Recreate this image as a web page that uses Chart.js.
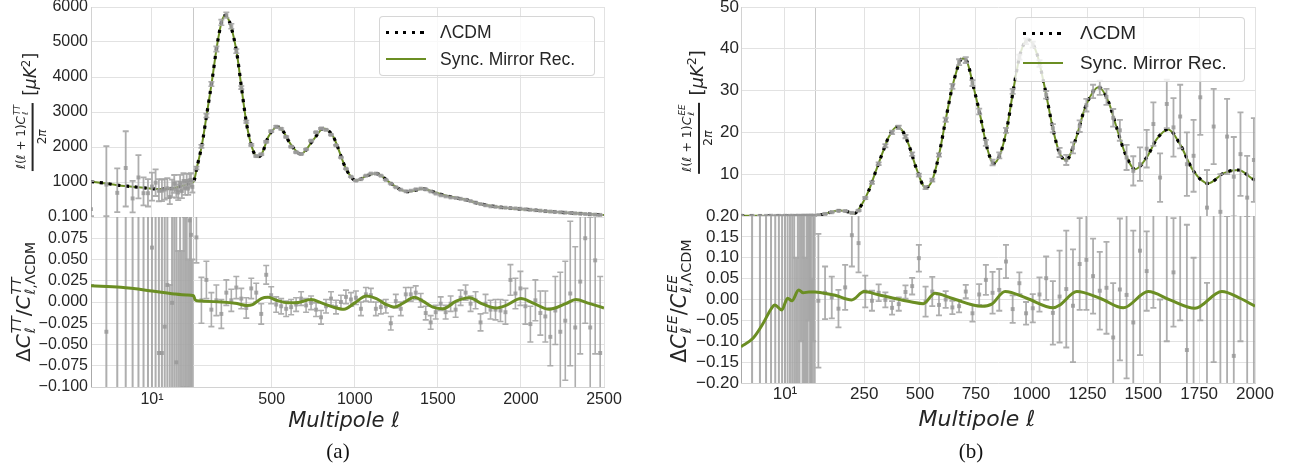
<!DOCTYPE html>
<html><head><meta charset="utf-8">
<script src="https://cdn.jsdelivr.net/npm/chart.js@4.4.0/dist/chart.umd.min.js"></script>
<style>
body{margin:0;background:#fff;width:1291px;height:476px;overflow:hidden;position:relative;color:#262626;font-family:'Liberation Sans',Arial,sans-serif}
canvas{position:absolute;left:0;top:0}
.abs{position:absolute;white-space:nowrap}
.m{font-family:'DejaVu Sans',sans-serif;color:#262626}
.m i{font-style:italic}
.rot{position:absolute;transform:translate(-50%,-50%) rotate(-90deg);display:flex;align-items:center;white-space:nowrap;line-height:1}
.frac{display:inline-flex;flex-direction:column;align-items:center}
.frac .num{border-bottom:2px solid #262626;padding:0 2px 2px;display:flex;align-items:center}
.frac .den{padding-top:2px}
.ss{display:inline-flex;flex-direction:column;font-size:0.7em;line-height:1;margin-left:1px}
.leg{position:absolute;background:rgba(255,255,255,0.8);border:1px solid rgba(204,204,204,0.8);border-radius:4px;box-sizing:border-box}
.dots{position:absolute;height:3px;background:repeating-linear-gradient(to right,#000 0 3.2px,transparent 3.2px 8.6px)}
.gl{position:absolute;height:2px;background:#6b8e23}
.lt{position:absolute;transform:translateY(-50%);font-family:'Liberation Sans',Arial,sans-serif;color:#262626;white-space:nowrap}
.cap{position:absolute;transform:translate(-50%,-50%);font-family:'Liberation Serif','Times New Roman',serif;font-size:21px;color:#111}
.xl{position:absolute;transform:translate(-50%,-50%);font-family:'DejaVu Sans',sans-serif;font-style:italic;color:#262626;white-space:nowrap}
</style>
</head><body>
<canvas id="cTTtop" width="1291" height="476"></canvas>
<canvas id="cTTbot" width="1291" height="476"></canvas>
<canvas id="cEEtop" width="1291" height="476"></canvas>
<canvas id="cEEbot" width="1291" height="476"></canvas>

<!-- y-axis titles -->
<div class="rot m" style="left:30px;top:112px">
  <span class="frac" style="font-size:12px"><span class="num"><i>ℓ</i>(<i>ℓ</i>&nbsp;+&nbsp;1)<i>C</i><span class="ss"><i>TT</i><i>ℓ</i></span></span><span class="den">2<i>π</i></span></span>
  <span style="font-size:17px;margin-left:7px">[<i>μK</i><sup style="font-size:0.7em">2</sup>]</span>
</div>
<div class="rot m" style="left:23px;top:302px;font-size:20px">Δ<i>C</i><span class="ss"><i>TT</i><i>ℓ</i></span>/<i>C</i><span class="ss"><i>TT</i><span><i>ℓ</i>,ΛCDM</span></span></div>
<div class="rot m" style="left:696px;top:112px">
  <span class="frac" style="font-size:12.5px"><span class="num"><i>ℓ</i>(<i>ℓ</i>&nbsp;+&nbsp;1)<i>C</i><span class="ss"><i>EE</i><i>ℓ</i></span></span><span class="den">2<i>π</i></span></span>
  <span style="font-size:18px;margin-left:7px">[<i>μK</i><sup style="font-size:0.7em">2</sup>]</span>
</div>
<div class="rot m" style="left:679px;top:301px;font-size:20.5px">Δ<i>C</i><span class="ss"><i>EE</i><i>ℓ</i></span>/<i>C</i><span class="ss"><i>EE</i><span><i>ℓ</i>,ΛCDM</span></span></div>

<!-- x titles and captions -->
<div class="xl" style="left:344px;top:420px;font-size:21px">Multipole ℓ</div>
<div class="xl" style="left:977px;top:418px;font-size:22px">Multipole ℓ</div>
<div class="cap" style="left:338px;top:451px">(a)</div>
<div class="cap" style="left:971px;top:451px">(b)</div>

<!-- legends -->
<div class="leg" style="left:379px;top:16px;width:216px;height:60px"></div>
<div class="dots" style="left:386px;top:31px;width:42px"></div>
<div class="lt" style="left:440px;top:32px;font-size:17.5px">ΛCDM</div>
<div class="gl" style="left:386px;top:58px;width:40px"></div>
<div class="lt" style="left:440px;top:59px;font-size:17.5px">Sync. Mirror Rec.</div>

<div class="leg" style="left:1015px;top:17px;width:230px;height:65px"></div>
<div class="dots" style="left:1023px;top:32px;width:42px"></div>
<div class="lt" style="left:1080px;top:33px;font-size:19px">ΛCDM</div>
<div class="gl" style="left:1023px;top:62px;width:40px"></div>
<div class="lt" style="left:1080px;top:63px;font-size:19px">Sync. Mirror Rec.</div>

<script>
// ================= DATA: panel (a) TT =================
const ttLowEll = [2,3,4,5,6,7,8,9,10,11,12,13,14,15,16,17,18,19,20,21,22,23,24,25,26,27,28,29];
const ttLowD = [225,925,690,1400,530,1130,680,680,870,980, 750,752,785,820,570,810,950,780,700,975, 740,1030,820,1030,810,1050,1060,860];
const ttLowErrLo = [200,900,550,1100,400,600,350,380,400,380, 300,300,290,280,200,250,260,230,220,230, 200,210,190,200,180,180,180,160];
const ttLowErrHi = [800,1100,700,1050,500,640,450,400,400,380, 330,320,300,290,250,260,250,240,230,230, 210,220,200,200,190,190,190,170];
const ttLowRes = [-0.78,-0.035,-0.24,0.6,-0.36,0.38,-0.18,-0.15,0.064,0.2, -0.06,-0.06,-0.029,0.02,-0.3,-0.001,0.15,-0.071,-0.2,0.12, -0.18,0.13,-0.12,0.11,-0.15,0.096,0.079,-0.13];
const ttLowResErr = [0.8,1.1,0.7,1.1,0.55,0.7,0.5,0.48,0.46,0.42, 0.4,0.38,0.36,0.34,0.32,0.3,0.28,0.27,0.26,0.25, 0.24,0.23,0.22,0.21,0.2,0.2,0.19,0.18];

const ttBinEll = [47,77,107,137,167,197,227,257,287,317, 347,377,407,437,467,497,527,557,587,617, 647,677,707,737,767,797,827,857,887,917, 947,977,1007,1037,1067,1097,1127,1157,1187,1217, 1247,1277,1307,1337,1367,1397,1427,1457,1487,1517, 1547,1577,1607,1637,1667,1697,1727,1757,1787,1817, 1847,1877,1907,1937,1967,1997,2027,2057,2087,2117, 2147,2177,2207,2237,2267,2297,2327,2357,2387,2417, 2447,2477];
const ttBinD = [1400,2020,2900,3800,4800,5560,5770,5450,4740,3700, 2720,2060,1740,1790,2150,2450,2580,2520,2290,2010, 1850,1800,1930,2180,2420,2530,2490,2350,2050,1700, 1380,1150,1040,1080,1180,1240,1240,1180,1060,950, 850,780,735,750,790,810,790,730,670,620, 590,560,545,520,490,455,410,370,335,305, 290,275,265,255,245,235,220,205,195,180, 168,155,145,135,125,115,105,95,85,76, 68,60];
const ttBinErr = [40,45,55,65,75,80,80,70,60,45, 35,28,22,22,24,26,26,25,22,20, 18,17,17,18,19,19,19,18,16,14, 12,11,10,10,10,10,10,9,9,8, 8,7,7,7,7,7,7,6,6,6, 6,6,6,6,6,5,5,5,5,5, 5,5,5,5,5,5,5,5,5,5, 5,5,5,5,5,6,6,6,6,6, 6,6];
const ttBinRes = [0.076,0.002,0.026,-0.009,0.002,-0.014,0.011,0.002,0.017,0.004, -0.007,0.016,0.011,-0.014,0.032,0.008,-0.003,-0.005,-0.008,-0.006, -0.003,0.004,-0.004,-0.001,-0.009,-0.018,-0.005,0.004,-0.006,0.0, 0.006,0.003,0.005,-0.008,0.009,0.008,-0.008,-0.006,-0.005,-0.025, 0.001,-0.008,0.009,0.009,0.011,0.002,-0.013,-0.024,-0.012,-0.002, -0.012,-0.002,-0.009,0.005,0.011,-0.002,0.002,-0.024,-0.002,-0.009, -0.009,-0.010,-0.012,0.026,0.010,0.016,-0.005,-0.026,0.002,-0.013, -0.017,-0.041,-0.010,-0.035,-0.022,0.010,-0.030,0.024,0.075,-0.03, 0.049,-0.06];
const ttBinResErr = [0.03,0.027,0.022,0.02,0.018,0.017,0.015,0.013,0.013,0.012, 0.012,0.012,0.011,0.012,0.011,0.01,0.009,0.009,0.009,0.009, 0.008,0.008,0.008,0.008,0.008,0.008,0.008,0.008,0.008,0.008, 0.008,0.008,0.008,0.008,0.008,0.008,0.008,0.008,0.008,0.008, 0.008,0.008,0.008,0.008,0.008,0.008,0.008,0.008,0.008,0.008, 0.008,0.009,0.009,0.009,0.009,0.009,0.01,0.01,0.011,0.011, 0.012,0.013,0.014,0.018,0.018,0.02,0.021,0.021,0.024,0.026, 0.03,0.034,0.04,0.07,0.07,0.085,0.095,0.085,0.1,0.13, 0.11,0.09];

const ttModelEll = [2,3,4,6,9,12,16,21,25,30, 50,80,110,140,170,200,222,250,290,320, 350,380,412,440,480,535,570,610,675,750, 812,870,950,1010,1072,1130,1212,1272,1318,1412, 1460,1533,1600,1673,1750,1874,1950,2074,2150,2275, 2400,2500];
const ttModelD = [1010,960,910,866,820,800,810,870,930,1009, 1420,2060,2960,3870,4870,5600,5760,5520,4680,3630, 2630,2010,1720,1800,2290,2580,2440,2110,1800,2200, 2530,2300,1350,1040,1180,1240,980,790,725,805, 740,630,555,490,380,280,245,200,165,123, 85,57];
const ttSyncEll = [2,4.4,10,18,25,30,38,50,90,200, 280,350,385,437,478,528,598,660,738,800, 870,935,1000,1070,1130,1190,1240,1290,1360,1410, 1470,1530,1610,1690,1760,1850,1910,2000,2070,2170, 2270,2330,2410,2500];
const ttSyncRes = [0.019,0.0173,0.013,0.0094,0.0082,0.0074,0.003,0.0015,0.001,0.0, -0.0015,-0.004,-0.003,0.004,0.0055,0.002,-0.001,-0.0005,0.003,-0.001, -0.006,-0.0086,-0.001,0.007,0.004,-0.003,-0.006,-0.0015,0.0055,0.001, -0.006,-0.008,0.001,0.005,-0.0015,-0.007,-0.004,0.004,-0.001,-0.0086, -0.002,0.003,-0.0016,-0.007];

// ================= DATA: panel (b) EE =================
const eeLowEll = [2,3,4,5,6,7,8,9,10,11,12,13,14,15,16,17,18,19,20,21,22,23,24,25,26,27,28,29];
const eeLowD = [0.05,0.03,0.02,0.03,0.06,0.02,0.04,0.01,0.05,0.02, 0.03,0.06,0.01,0.04,0.05,0.02,0.03,0.07,0.02,0.05, 0.03,0.06,0.04,0.02,0.08,0.03,0.05,0.04];
const eeLowErr = [0.1,0.08,0.07,0.06,0.06,0.05,0.05,0.05,0.05,0.04, 0.04,0.04,0.04,0.04,0.04,0.04,0.04,0.04,0.04,0.04, 0.04,0.04,0.04,0.04,0.04,0.04,0.04,0.04];
const eeLowRes = [0.5,-0.8,1.2,-0.5,0.9,-0.6,0.4,-0.7,0.6,-0.4, 0.8,-0.3,0.5,-0.9,0.35,-0.45,0.7,-0.5,0.3,-0.6, 0.45,-0.35,0.55,-0.4,0.3,-0.5,0.4,-0.3];
const eeLowResErr = [3,2.6,2.2,2,1.8,1.7,1.6,1.5,1.4,1.3, 1.2,1.1,1.0,1.0,0.9,0.9,0.8,0.8,0.75,0.7, 0.7,0.65,0.6,0.6,0.55,0.55,0.5,0.5];

const eeBinEll = [45,75,105,135,165,195,225,255,285,315, 345,375,405,435,465,495,525,555,585,615, 645,675,705,735,765,795,825,855,885,915, 945,975,1005,1035,1065,1095,1125,1155,1185,1215, 1245,1275,1305,1335,1365,1395,1425,1455,1485,1515, 1545,1575,1605,1635,1665,1695,1725,1755,1785,1815, 1845,1875,1905,1935,1965,1995];
const eeBinD = [0.2,0.5,0.9,1.25,1.2,0.75,1.3,4.3,8.0,12.5, 16.8,20.0,21.2,19.0,14.8,9.8,6.8,8.6,14.6,23.0, 31.0,36.8,37.3,31.8,25.0,17.5,12.8,14.5,20.5,29.8, 38.0,41.8,41.0,36.5,29.0,21.0,15.2,13.4,16.3,21.5, 26.5,29.8,30.7,28.5,23.5,20.5,14.0,10.8,12.4,16.1, 22.0,9.2,26.8,21.2,23.8,12.4,14.4,28.4,2.0,21.4, 1.0,19.0,9.4,14.8,4.4,13.4];
const eeBinErr = [0.15,0.12,0.1,0.1,0.1,0.12,0.15,0.25,0.3,0.35, 0.4,0.4,0.4,0.4,0.4,0.35,0.35,0.35,0.4,0.5, 0.6,0.7,0.7,0.7,0.7,0.7,0.7,0.7,0.6,0.6, 0.6,0.7,0.7,0.8,0.9,1.0,1.1,1.2,1.3,1.4, 1.5,1.6,1.7,1.9,2.1,2.5,3.0,3.5,4.0,4.5, 5.2,5.8,5.8,7.0,7.6,7.6,8.6,9.0,9.0,9.0, 9.0,9.0,9.5,10.0,10.0,10.0];
const eeBinRes = [-0.003,0.016,0.005,-0.022,0.029,0.154,0.135,0.019,-0.003,0.016, -0.001,-0.020,-0.011,0.018,0.032,0.099,-0.005,0.019,-0.013,0.0, -0.019,-0.016,0.019,-0.033,0.012,0.047,0.016,0.023,0.091,-0.023, 0.039,-0.033,-0.021,0.012,0.051,-0.032,0.007,0.025,-0.015,0.085, 0.095,0.056,0.021,0.028,-0.091,0.024,0.011,-0.055,0.117,0.068, 0.28,-0.3,0.25,0.065,0.3,-0.121,-0.3,0.35,-0.25,0.3, 0.206,-0.3,-0.135,0.4,-0.4,0.3];
const eeBinResErr = [0.16,0.063,0.05,0.045,0.054,0.075,0.07,0.038,0.024,0.02, 0.018,0.016,0.016,0.016,0.02,0.032,0.036,0.035,0.025,0.02, 0.016,0.015,0.016,0.02,0.025,0.036,0.05,0.05,0.04,0.033, 0.026,0.027,0.034,0.041,0.052,0.076,0.11,0.14,0.135,0.11, 0.12,0.09,0.093,0.11,0.13,0.17,0.2,0.22,0.25,0.095, 0.3,0.3,0.35,0.13,0.35,0.3,0.4,0.4,0.29,0.45, 0.5,0.5,0.5,0.5,0.6,0.6];

const eeModelEll = [2,4,6,10,20,30,60,100,140,170, 205,240,270,300,330,360,395,420,450,485, 525,555,585,615,650,690,710,740,770,800, 830,860,890,920,950,985,1023,1060,1097,1127, 1155,1195,1240,1300,1345,1380,1420,1463,1515,1560, 1612,1664,1724,1791,1858,1925,1992,2000];
const eeModelD = [0.04,0.03,0.02,0.01,0.02,0.05,0.3,0.9,1.3,1.1, 0.6,2.8,6.0,10.4,14.8,18.9,21.3,20.5,17.0,11.2, 6.8,8.6,14.6,23.0,32.0,37.7,37.0,30.8,24.0,16.4, 12.6,14.9,21.2,30.8,39.0,42.2,38.9,30.4,20.4,14.8, 13.4,18.0,26.0,30.8,27.2,21.2,14.8,11.2,14.0,18.4, 20.7,17.2,10.8,7.8,10.2,11.0,8.8,8.6];
const eeSyncEll = [2,3.1,4.5,6.1,6.9,8.9,11,12.9,16.5,19.5, 24,30,52,120,194,250,310,373,463,515, 567,642,776,821,881,978,1097,1127,1202,1306, 1410,1522,1619,1731,1851,1933,2000];
const eeSyncRes = [-0.113,-0.093,-0.057,-0.021,-0.013,-0.025,0.003,-0.003,0.023,0.016, 0.018,0.018,0.017,0.01,-0.001,0.019,0.012,0.004,-0.006,-0.010, 0.015,0.003,-0.016,-0.011,0.019,0.003,-0.02,-0.013,0.019,0.003, -0.02,0.019,-0.001,-0.021,0.019,0.003,-0.016];

// tick values
const ttXTicks = [10,30,500,1000,1500,2000,2500];
const eeXTicks = [10,30,250,500,750,1000,1250,1500,1750,2000];

// ================= hybrid log/linear x scale =================
const HYB = {
  cTTtop:{min:2,brk:30,max:2500,frac:0.2,ticks:ttXTicks},
  cTTbot:{min:2,brk:30,max:2500,frac:0.2,ticks:ttXTicks},
  cEEtop:{min:2,brk:30,max:2000,frac:0.144,ticks:eeXTicks},
  cEEbot:{min:2,brk:30,max:2000,frac:0.144,ticks:eeXTicks}
};
class HybridScale extends Chart.LinearScale {
  hx(v){
    const c = HYB[this.chart.canvas.id], L = Math.log10;
    if (v <= c.brk) return c.frac*(L(v)-L(c.min))/(L(c.brk)-L(c.min));
    return c.frac + (1-c.frac)*(v-c.brk)/(c.max-c.brk);
  }
  buildTicks(){ return HYB[this.chart.canvas.id].ticks.map(v=>({value:v})); }
  getPixelForValue(v){ if (v===null||v===undefined||isNaN(v)) return NaN; return this.getPixelForDecimal(this.hx(v)); }
  getValueForPixel(p){ return NaN; }
}
HybridScale.id = 'hybrid';
HybridScale.defaults = {};
Chart.register(HybridScale);

// ================= error bar plugin =================
const errorBars = {
  id:'errorBars',
  beforeDatasetDraw(chart, args){
    const ds = chart.data.datasets[args.index];
    if (!ds.errLo) return;
    const xs = chart.scales[args.meta.xAxisID], ys = chart.scales[args.meta.yAxisID];
    const a = chart.chartArea, ctx = chart.ctx, cap = ds.capHalf;
    ctx.save();
    ctx.beginPath(); ctx.rect(a.left, a.top, a.right-a.left, a.bottom-a.top); ctx.clip();
    ctx.strokeStyle = ds.errColor; ctx.lineWidth = ds.errWidth;
    ds.data.forEach((p,i)=>{
      const x = xs.getPixelForValue(p.x);
      const y1 = ys.getPixelForValue(p.y - ds.errLo[i]);
      const y2 = ys.getPixelForValue(p.y + ds.errHi[i]);
      ctx.beginPath();
      ctx.moveTo(x,y1); ctx.lineTo(x,y2);
      ctx.moveTo(x-cap,y1); ctx.lineTo(x+cap,y1);
      ctx.moveTo(x-cap,y2); ctx.lineTo(x+cap,y2);
      ctx.stroke();
    });
    ctx.restore();
  }
};

Chart.defaults.font.family = "'Liberation Sans', Arial, sans-serif";
Chart.defaults.color = '#262626';

const W = 1291, H = 476, YW = 70;
const GRID = '#e2e2e2', EDGE = '#d2d2d2', GREEN = '#6b8e23';
const pts = (xs, ys) => xs.map((x,i)=>({x, y: ys[i]}));
const minus = s => s.replace('-', '\u2212');

function scatterDS(xs, ys, lo, hi, order, ew){
  return {type:'line', data: pts(xs, ys), showLine:false, pointStyle:'rect', pointRadius:2.8,
    pointBackgroundColor:'rgba(150,150,150,0.8)', pointBorderWidth:0, pointHoverRadius:0,
    errLo: lo, errHi: hi, errColor:'rgba(165,165,165,0.9)', errWidth: ew || 1.6, capHalf:3, order, clip:0};
}
function lineDS(xs, ys, color, width, dash, order){
  return {type:'line', data: pts(xs, ys), borderColor: color, borderWidth: width, borderDash: dash || [],
    borderCapStyle:'butt', pointRadius:0, cubicInterpolationMode:'monotone', fill:false, order, clip:0};
}

function build(id, box, opt){
  const XH = opt.showX ? 30 : 0;
  return new Chart(document.getElementById(id), {
    type:'line',
    data:{datasets: opt.datasets},
    plugins:[errorBars],
    options:{
      responsive:false, animation:false, devicePixelRatio:1, events:[],
      layout:{padding:{left: box.l - YW, right: W - box.r, top: box.t, bottom: H - box.b - XH}},
      plugins:{legend:{display:false}, tooltip:{enabled:false}},
      scales:{
        x:{type:'hybrid', min: HYB[id].min, max: HYB[id].max, position:'bottom',
          grid:{color: c => (c.tick && c.tick.value===30) ? '#c9c9c9' : GRID, lineWidth:1, drawTicks:false},
          border:{display:true, color: EDGE},
          ticks:{display: opt.showX, autoSkip:false, maxRotation:0, minRotation:0, padding: opt.xPad, font:{size: opt.fs},
            callback: v => v===10 ? '10\u00b9' : (v===30 ? '' : String(v))},
          afterFit: s => { s.height = XH; s.paddingLeft = 0; s.paddingRight = 0; }
        },
        y:{type:'linear', min: opt.ymin, max: opt.ymax,
          grid:{color: GRID, lineWidth:1, drawTicks:false},
          border:{display:true, color: EDGE},
          ticks:{stepSize: opt.step, autoSkip:false, padding: opt.yPad, font:{size: opt.fs}, callback: opt.ylab},
          afterFit: s => { s.width = YW; s.paddingTop = 0; s.paddingBottom = 0; }
        }
      }
    }
  });
}

// ---- (a) top ----
build('cTTtop', {l:91, t:7, r:604, b:217}, {
  showX:false, fs:16, xPad:3, yPad:3, ymin:0, ymax:6000, step:1000,
  ylab: v => v===0 ? '' : String(Math.round(v)),
  datasets:[
    lineDS(ttModelEll, ttModelD, GREEN, 2, null, 2),
    lineDS(ttModelEll, ttModelD, '#000', 3.2, [3.2,5.6], 1),
    scatterDS(ttLowEll, ttLowD, ttLowErrLo, ttLowErrHi, 0, 1.8),
    scatterDS(ttBinEll, ttBinD, ttBinErr, ttBinErr, 0)
  ]
});
// ---- (a) bottom ----
build('cTTbot', {l:91, t:217, r:604, b:387}, {
  showX:true, fs:16, xPad:3, yPad:3, ymin:-0.1, ymax:0.1, step:0.025,
  ylab: v => minus((Math.abs(v)<1e-9?0:v).toFixed(3)),
  datasets:[
    scatterDS(ttLowEll, ttLowRes, ttLowResErr, ttLowResErr, 1, 2),
    scatterDS(ttBinEll, ttBinRes, ttBinResErr, ttBinResErr, 1),
    lineDS(ttSyncEll, ttSyncRes, GREEN, 3, null, 0)
  ]
});
// ---- (b) top ----
build('cEEtop', {l:741, t:7, r:1255, b:216}, {
  showX:false, fs:17, xPad:2, yPad:2, ymin:0, ymax:50, step:10,
  ylab: v => v===0 ? '' : String(Math.round(v)),
  datasets:[
    lineDS(eeModelEll, eeModelD, GREEN, 2, null, 2),
    lineDS(eeModelEll, eeModelD, '#000', 3.2, [3.2,5.6], 1),
    scatterDS(eeLowEll, eeLowD, eeLowErr, eeLowErr, 0),
    scatterDS(eeBinEll, eeBinD, eeBinErr, eeBinErr, 0, 1.8)
  ]
});
// ---- (b) bottom ----
build('cEEbot', {l:741, t:216, r:1255, b:383}, {
  showX:true, fs:17, xPad:1, yPad:2, ymin:-0.2, ymax:0.2, step:0.05,
  ylab: v => minus((Math.abs(v)<1e-9?0:v).toFixed(2)),
  datasets:[
    scatterDS(eeLowEll, eeLowRes, eeLowResErr, eeLowResErr, 1, 2),
    scatterDS(eeBinEll, eeBinRes, eeBinResErr, eeBinResErr, 1, 1.8),
    lineDS(eeSyncEll, eeSyncRes, GREEN, 3, null, 0)
  ]
});
</script>
</body></html>
